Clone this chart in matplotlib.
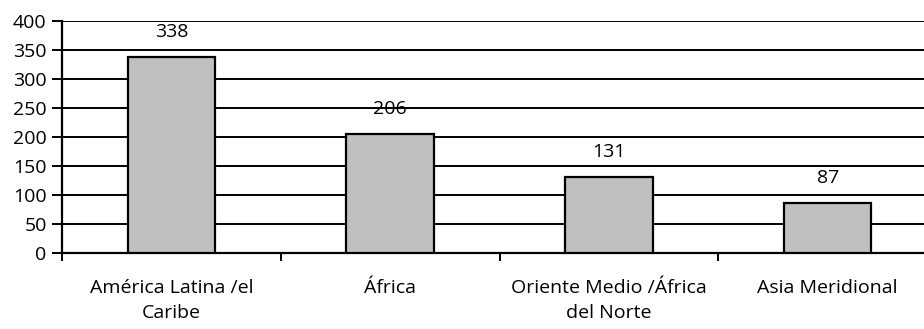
import numpy as np
import matplotlib.pyplot as plt
from matplotlib.ticker import FixedLocator

regions = ['América Latina /el\nCaribe', 'África', 'Oriente Medio /África\ndel Norte', 'Asia Meridional']
counts = [338, 206, 131, 87]
yticks = [0, 50, 100, 150, 200, 250, 300, 350, 400]

plt.rcParams['font.family'] = ['Open Sans', 'DejaVu Sans']
plt.rcParams['font.size'] = 14

fig = plt.figure(figsize=(9.24, 3.29), dpi=100)
# axes run slightly past the right edge, like the cropped original
ax = fig.add_axes([62 / 924, 1 - 253 / 329, 875 / 924, 232 / 329])

ind = np.arange(len(regions))
ax.bar(ind, counts, width=0.4, color='#c0c0c0', edgecolor='black', linewidth=1.6, zorder=3)

for i in range(len(ind)):
    ax.annotate(str(counts[i]), (ind[i], counts[i]), xytext=(0, 25), textcoords='offset pixels',
                ha='center', va='center', color='black')

ax.set_xlim(-0.5, len(regions) - 0.5)
ax.set_ylim(0, 400)
ax.set_yticks(yticks)
ax.yaxis.grid(True, color='black', linewidth=1.4, zorder=0)
ax.set_axisbelow(True)

ax.set_xticks(ind)
ax.set_xticklabels(regions, linespacing=1.5)
ax.xaxis.set_minor_locator(FixedLocator(np.arange(-0.5, len(regions), 1.0)))
ax.tick_params(axis='x', which='major', length=0, pad=19)
ax.tick_params(axis='x', which='minor', length=6, width=1.4, direction='out')
ax.tick_params(axis='y', length=7, width=1.4, direction='out', pad=4)

for side in ['top', 'right']:
    ax.spines[side].set_visible(False)
for side in ['left', 'bottom']:
    ax.spines[side].set_linewidth(1.6)

fig.savefig('out.png', dpi=100)
